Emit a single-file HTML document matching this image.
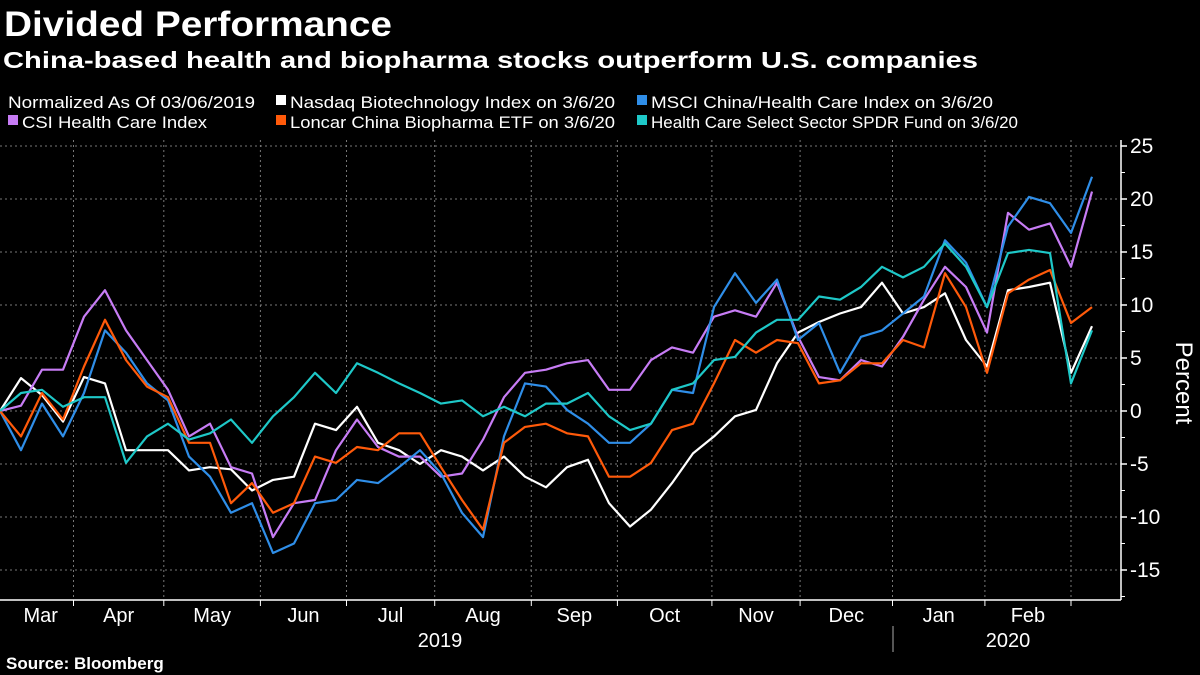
<!DOCTYPE html>
<html><head><meta charset="utf-8"><style>
html,body{margin:0;padding:0;background:#000;}
svg{display:block;font-family:"Liberation Sans",sans-serif;}
</style></head><body>
<svg id="chart" width="1200" height="675" xmlns="http://www.w3.org/2000/svg">
<rect width="1200" height="675" fill="#000"/>
<text x="4" y="36" fill="#fff" font-size="35" font-weight="bold" textLength="388" lengthAdjust="spacingAndGlyphs">Divided Performance</text>
<text x="3" y="68" fill="#fff" font-size="23" font-weight="bold" textLength="975" lengthAdjust="spacingAndGlyphs">China-based health and biopharma stocks outperform U.S. companies</text>
<g font-size="17" fill="#fff">
<text x="8" y="108" textLength="247" lengthAdjust="spacingAndGlyphs">Normalized As Of 03/06/2019</text>
<g><rect x="276" y="95" width="10" height="10" fill="#ffffff"/><text x="290" y="108" textLength="325" lengthAdjust="spacingAndGlyphs">Nasdaq Biotechnology Index on 3/6/20</text></g>
<g><rect x="637" y="95" width="10" height="10" fill="#2f8ee8"/><text x="651" y="108" textLength="342" lengthAdjust="spacingAndGlyphs">MSCI China/Health Care Index on 3/6/20</text></g>
<g><rect x="8" y="115" width="10" height="10" fill="#c77cf5"/><text x="22" y="128" textLength="185" lengthAdjust="spacingAndGlyphs">CSI Health Care Index</text></g>
<g><rect x="276" y="115" width="10" height="10" fill="#ff5a0a"/><text x="290" y="128" textLength="325" lengthAdjust="spacingAndGlyphs">Loncar China Biopharma ETF on 3/6/20</text></g>
<g><rect x="637" y="115" width="10" height="10" fill="#1ec8c8"/><text x="651" y="128" textLength="367" lengthAdjust="spacingAndGlyphs">Health Care Select Sector SPDR Fund on 3/6/20</text></g>
</g>
<g id="grid"></g>
<g id="axes"></g>
<g id="series"></g>
<text transform="translate(1176,383) rotate(90)" fill="#fff" font-size="24" text-anchor="middle">Percent</text>
<text x="6" y="669" fill="#fff" font-size="17" font-weight="bold">Source: Bloomberg</text>
</svg>
<script>
const yTicks = [25, 20, 15, 10, 5, 0, -5, -10, -15];
const months = ["Mar","Apr","May","Jun","Jul","Aug","Sep","Oct","Nov","Dec","Jan","Feb"];
const monthStartIdx = [0, 3.5, 7.8, 12.4, 16.5, 20.7, 25.3, 29.4, 33.9, 38.1, 42.5, 46.9, 51];
const nasdaq = [0,3.1,1.5,-1,3.2,2.6,-3.7,-3.7,-3.7,-5.6,-5.3,-5.5,-7.5,-6.5,-6.2,-1.2,-1.8,0.4,-3,-3.7,-5,-3.7,-4.3,-5.6,-4.3,-6.2,-7.2,-5.3,-4.6,-8.7,-10.9,-9.3,-6.8,-4,-2.4,-0.5,0.1,4.5,7.4,8.4,9.2,9.8,12.1,9.2,9.8,11.1,6.7,4.2,11.4,11.7,12.1,3.6,8];
const csi = [0,0.5,3.9,3.9,8.9,11.4,7.6,4.8,2,-2.4,-1.2,-5.3,-5.9,-11.9,-8.7,-8.4,-3.7,-0.8,-3.4,-4.3,-4.3,-6.2,-5.9,-2.7,1.3,3.6,3.9,4.5,4.8,2,2,4.8,6,5.5,8.9,9.5,8.9,12.1,7,3.2,2.9,4.8,4.2,7,10.5,13.6,11.7,7.4,18.7,17.1,17.7,13.6,20.7];
const msci = [0,-3.7,0.7,-2.4,1.7,7.6,5.5,2.6,1,-4.3,-6.2,-9.6,-8.7,-13.4,-12.5,-8.7,-8.4,-6.5,-6.8,-5.3,-3.7,-5.9,-9.6,-11.9,-2.4,2.6,2.3,0.1,-1.2,-3,-3,-1.2,2,1.7,9.8,13,10.2,12.4,6.7,8.3,3.6,7,7.6,9.2,10.8,16.1,14,9.8,17.4,20.2,19.6,16.8,22.1];
const loncar = [0,-2.4,1.7,-0.8,4.2,8.6,4.8,2.3,1.3,-3,-3,-8.7,-6.8,-9.6,-8.7,-4.3,-4.9,-3.4,-3.7,-2.1,-2.1,-5.3,-8.4,-11.2,-3,-1.5,-1.2,-2.1,-2.4,-6.2,-6.2,-4.9,-1.8,-1.2,2.6,6.7,5.5,6.7,6.4,2.6,2.9,4.5,4.5,6.7,6,13,9.8,3.6,11.1,12.4,13.3,8.3,9.8];
const spdr = [0,1.7,2,0.4,1.3,1.3,-4.9,-2.4,-1.2,-2.7,-2.1,-0.8,-3,-0.5,1.3,3.6,1.7,4.5,3.6,2.6,1.7,0.7,1,-0.5,0.4,-0.5,0.7,0.7,1.7,-0.5,-1.8,-1.2,2,2.6,4.8,5.1,7.4,8.6,8.6,10.8,10.5,11.7,13.6,12.6,13.6,15.8,13.6,9.8,14.9,15.2,14.9,2.6,7.6];

const NS = "http://www.w3.org/2000/svg";
const X0 = 0, DX = 21, Y0 = 411, PPU = 10.6, AXX = 1121, PT = 140, PB = 600;
function xScale(i){ return X0 + i*DX; }
function yScale(v){ return Y0 - v*PPU; }
function mk(tag, attrs, parent){ const e=document.createElementNS(NS,tag); for(const k in attrs) e.setAttribute(k,attrs[k]); parent.appendChild(e); return e; }

const grid = document.getElementById('grid');
const axes = document.getElementById('axes');
yTicks.forEach(t=>{
  const y=yScale(t);
  const gl=mk('line',{x1:0,x2:AXX,y1:y,y2:y,stroke:'#777','stroke-width':1,'stroke-dasharray':'2,3'},grid);
  
  
  const tk=mk('line',{x1:AXX,x2:AXX+6,y1:y,y2:y,stroke:'#fff','stroke-width':1.5},axes);
  
  
  const lb=mk('text',{x:AXX+9,y:y+7,fill:'#fff','font-size':21},axes);
  lb.textContent=t;
  
  
});
for(let v=-17.5; v<=27.5; v+=5){
  const y=yScale(v); if(y<PT||y>PB) continue;
  const mt=mk('line',{x1:AXX,x2:AXX+4,y1:y,y2:y,stroke:'#fff','stroke-width':1},axes);
  
  
}
const yAxis=mk('line',{x1:AXX,x2:AXX,y1:PT,y2:PB,stroke:'#fff','stroke-width':1.5},axes);


const xAxis=mk('line',{x1:0,x2:AXX,y1:PB,y2:PB,stroke:'#fff','stroke-width':1.5},axes);


monthStartIdx.forEach((m,k)=>{
  const x=xScale(m);
  if(k>0){
    const vg=mk('line',{x1:x,x2:x,y1:PT,y2:PB,stroke:'#777','stroke-width':1,'stroke-dasharray':'2,3'},grid);
    
    
    const tk=mk('line',{x1:x,x2:x,y1:PB,y2:PB+6,stroke:'#fff','stroke-width':1},axes);
    
    
  }
  if(k<months.length){
    const cx=(xScale(m)+xScale(monthStartIdx[k+1]))/2 + (k===0?4:0);
    const lb=mk('text',{x:cx,y:622,fill:'#fff','font-size':20,'text-anchor':'middle'},axes);
    lb.textContent=months[k];
    
    
  }
});
const y19=mk('text',{x:440,y:647,fill:'#fff','font-size':20,'text-anchor':'middle'},axes);
y19.textContent='2019';


const y20=mk('text',{x:1008,y:647,fill:'#fff','font-size':20,'text-anchor':'middle'},axes);
y20.textContent='2020';


const ysep=mk('line',{x1:893,x2:893,y1:626,y2:652,stroke:'#aaa','stroke-width':1},axes);



const seriesG=document.getElementById('series');
function drawLine(vals,color,name){
  const d=vals.map((v,i)=>(i?'L':'M')+xScale(i).toFixed(1)+' '+yScale(v).toFixed(1)).join(' ');
  const p=mk('path',{d:d,fill:'none',stroke:color,'stroke-width':2.2,'stroke-linejoin':'round'},seriesG);
  
  
}
drawLine(nasdaq,'#ffffff','line-nasdaq-biotech');
drawLine(csi,'#c77cf5','line-csi-health-care');
drawLine(msci,'#2f8ee8','line-msci-china-health-care');
drawLine(loncar,'#ff5a0a','line-loncar-china-biopharma');
drawLine(spdr,'#1ec8c8','line-health-care-spdr');
</script>
</body></html>
